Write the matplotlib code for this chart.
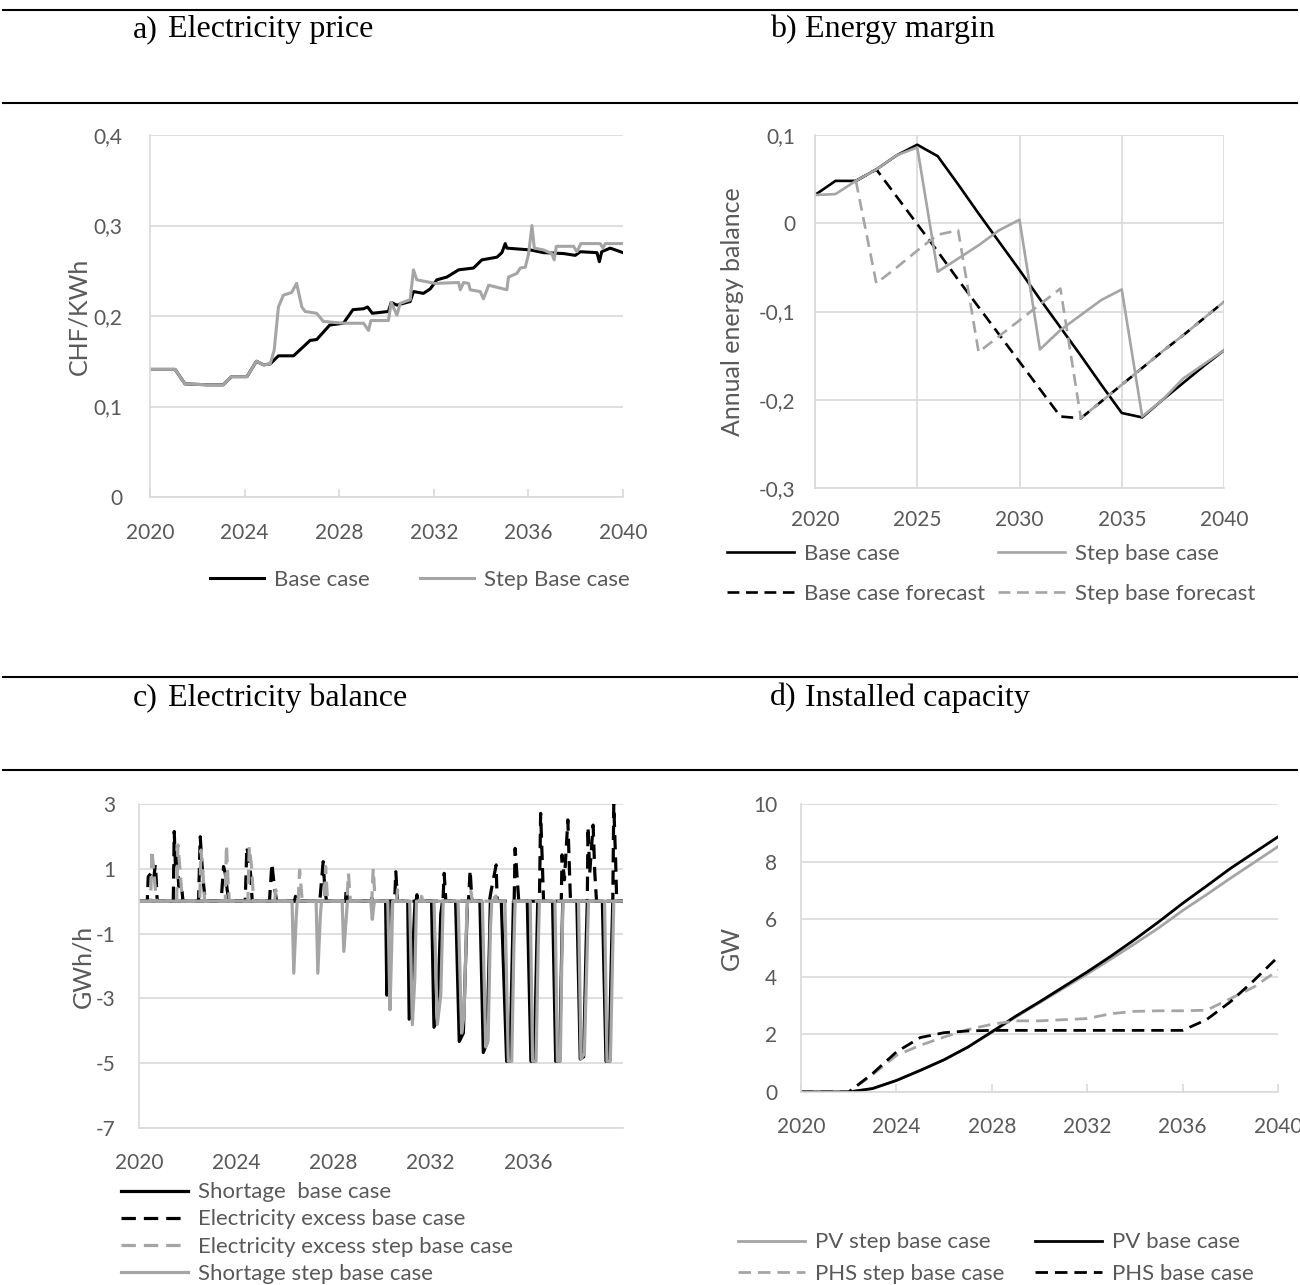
import matplotlib.pyplot as plt
from matplotlib.lines import Line2D
from matplotlib.ticker import FuncFormatter

plt.rcParams['font.family'] = ['Lato', 'DejaVu Sans']

W, H = 1300, 1285
GREY = '#a5a5a5'
GRID = '#d9d9d9'
TXT = '#595959'
FS = 15      # tick labels
LFS = 16     # legend text
YFS = 18     # axis titles

# a) electricity price, CHF/kWh
price_x_base = [2020.0, 2021.06, 2021.48, 2022.4, 2023.1, 2023.45, 2024.1, 2024.5, 2024.8, 2025.08,
                2025.43, 2026.07, 2026.77, 2027.05, 2027.6, 2028.18, 2028.58, 2029.03, 2029.2, 2029.4,
                2030.08, 2030.2, 2030.44, 2031.0, 2031.14, 2031.56, 2031.85, 2032.13, 2032.55, 2033.05,
                2033.68, 2034.03, 2034.67, 2034.88, 2035.02, 2035.09, 2035.58, 2036.08, 2036.64, 2037.49,
                2037.98, 2038.2, 2038.9, 2039.0, 2039.1, 2039.46, 2040.0]
price_base = [0.141, 0.141, 0.125, 0.124, 0.124, 0.133, 0.133, 0.150, 0.146, 0.147,
              0.156, 0.156, 0.173, 0.174, 0.190, 0.192, 0.207, 0.208, 0.210, 0.203,
              0.205, 0.215, 0.212, 0.216, 0.227, 0.225, 0.230, 0.240, 0.243, 0.251,
              0.253, 0.262, 0.265, 0.270, 0.280, 0.275, 0.274, 0.273, 0.270, 0.269,
              0.267, 0.271, 0.270, 0.260, 0.271, 0.275, 0.270]
price_x_step = [2020.0, 2021.06, 2021.48, 2022.4, 2023.1, 2023.45, 2024.1, 2024.5, 2024.8, 2025.08,
                2025.25, 2025.43, 2025.64, 2025.99, 2026.2, 2026.42, 2026.56, 2027.05, 2027.33, 2028.18,
                2029.03, 2029.24, 2029.34, 2030.08, 2030.2, 2030.44, 2030.58, 2031.0, 2031.14, 2031.28,
                2032.06, 2033.05, 2033.12, 2033.26, 2033.47, 2033.54, 2033.96, 2034.1, 2034.32, 2035.09,
                2035.16, 2035.51, 2035.66, 2035.87, 2036.01, 2036.15, 2036.25, 2036.64, 2036.99, 2037.09,
                2037.18, 2037.91, 2038.05, 2038.22, 2039.04, 2039.15, 2039.25, 2040.0]
price_step = [0.141, 0.141, 0.125, 0.124, 0.124, 0.133, 0.133, 0.150, 0.146, 0.147,
              0.162, 0.210, 0.223, 0.226, 0.236, 0.210, 0.205, 0.203, 0.194, 0.192,
              0.192, 0.184, 0.195, 0.195, 0.215, 0.201, 0.214, 0.218, 0.251, 0.240,
              0.236, 0.237, 0.229, 0.237, 0.236, 0.229, 0.227, 0.219, 0.234, 0.229,
              0.243, 0.247, 0.253, 0.254, 0.269, 0.300, 0.275, 0.273, 0.269, 0.262,
              0.277, 0.277, 0.271, 0.280, 0.280, 0.275, 0.280, 0.280]

# b) energy margin, annual energy balance
margin_years = list(range(2020, 2041))
margin_base = [0.032, 0.048, 0.048, 0.061, 0.077, 0.089, 0.076, 0.044, 0.011, -0.021, -0.053,
               -0.086, -0.118, -0.150, -0.183, -0.215, -0.220, -0.200, -0.181, -0.162, -0.144]
margin_step = [0.032, 0.033, 0.048, 0.061, 0.077, 0.086, -0.055, -0.040, -0.025, -0.008, 0.004,
               -0.143, -0.121, -0.104, -0.087, -0.075, -0.219, -0.200, -0.176, -0.160, -0.144]
forecast_years = list(range(2022, 2041))
forecast_base = [0.048, 0.061, 0.030, -0.001, -0.032, -0.064, -0.095, -0.126, -0.157, -0.188,
                 -0.219, -0.221, -0.202, -0.183, -0.164, -0.145, -0.127, -0.108, -0.089]
forecast_step = [0.048, -0.068, -0.050, -0.031, -0.013, -0.008, -0.146, -0.128, -0.110, -0.092,
                 -0.074, -0.221, -0.202, -0.183, -0.164, -0.145, -0.127, -0.108, -0.089]

# c) electricity balance, GWh/h
short_base_x = [2020.0,
                2030.15, 2030.20, 2030.26, 2030.30,
                2031.06, 2031.12, 2031.20, 2031.30, 2031.36,
                2032.04, 2032.14, 2032.28, 2032.42, 2032.49,
                2033.03, 2033.18, 2033.35, 2033.46, 2033.52,
                2034.03, 2034.17, 2034.32, 2034.42, 2034.46,
                2034.91, 2035.13, 2035.27, 2035.37, 2035.41,
                2035.98, 2036.13, 2036.27, 2036.37, 2036.41,
                2037.02, 2037.15, 2037.31, 2037.40, 2037.44,
                2038.02, 2038.16, 2038.30, 2038.40, 2038.45,
                2039.07, 2039.22, 2039.35, 2039.45, 2039.50,
                2039.92]
short_base = [0,
              0, -2.9, -1.5, 0,
              0, -3.64, -3.5, -1.0, 0,
              0, -3.89, -3.66, -0.4, 0,
              0, -4.33, -4.07, -1.4, 0,
              0, -4.67, -4.38, -1.4, 0,
              0, -4.94, -4.94, -1.4, 0,
              0, -4.94, -4.94, -1.4, 0,
              0, -4.94, -4.94, -1.4, 0,
              0, -4.87, -4.80, -1.4, 0,
              0, -4.94, -4.94, -1.4, 0,
              0]
short_step_x = [2020.0,
                2026.30, 2026.37, 2026.47, 2026.51,
                2027.29, 2027.36, 2027.46, 2027.51,
                2028.36, 2028.43, 2028.53, 2028.58,
                2029.54, 2029.60, 2029.67, 2029.71,
                2030.24, 2030.33, 2030.40, 2030.44,
                2031.14, 2031.25, 2031.35, 2031.42,
                2032.14, 2032.28, 2032.42, 2032.52,
                2033.13, 2033.28, 2033.38, 2033.49, 2033.53,
                2034.13, 2034.27, 2034.37, 2034.46, 2034.52,
                2035.06, 2035.20, 2035.34, 2035.43, 2035.48,
                2036.10, 2036.20, 2036.34, 2036.43, 2036.48,
                2037.12, 2037.22, 2037.34, 2037.41, 2037.45,
                2038.09, 2038.19, 2038.33, 2038.45, 2038.50,
                2039.16, 2039.26, 2039.40, 2039.50, 2039.54,
                2039.92]
short_step = [0,
              0, -2.22, -0.5, 0,
              0, -2.22, -0.5, 0,
              0, -1.55, -0.5, 0,
              0, -0.56, -0.1, 0,
              0, -3.35, -1.4, 0,
              0, -3.81, -2.4, 0,
              0, -3.80, -2.9, 0,
              0, -4.07, -3.5, -0.4, 0,
              0, -4.50, -4.3, -0.9, 0,
              0, -4.94, -4.94, -1.4, 0,
              0, -4.94, -4.94, -1.4, 0,
              0, -4.94, -4.94, -1.4, 0,
              0, -4.87, -4.70, -1.4, 0,
              0, -4.94, -4.94, -1.4, 0,
              0]
excess_base_x = [2020.0,
                 2020.34, 2020.38, 2020.50, 2020.60, 2020.67, 2020.71, 2020.75,
                 2021.41, 2021.45, 2021.50, 2021.55, 2021.64, 2021.74, 2021.81,
                 2022.45, 2022.52, 2022.59, 2022.66, 2022.73,
                 2023.38, 2023.48, 2023.55, 2023.63, 2023.70,
                 2024.37, 2024.44, 2024.52, 2024.59, 2024.66,
                 2025.37, 2025.47, 2025.54, 2025.66,
                 2026.40, 2026.44, 2026.48,
                 2027.44, 2027.58, 2027.65, 2027.72,
                 2028.50, 2028.53, 2028.62,
                 2029.55, 2029.58, 2029.62,
                 2030.52, 2030.57, 2030.64,
                 2031.40, 2031.44, 2031.48,
                 2032.51, 2032.56, 2032.63,
                 2033.56, 2033.63, 2033.70,
                 2034.42, 2034.50, 2034.70, 2034.74,
                 2035.44, 2035.48, 2035.56, 2035.63,
                 2036.48, 2036.53, 2036.60, 2036.65,
                 2037.38, 2037.41, 2037.51, 2037.65, 2037.72, 2037.76,
                 2038.45, 2038.48, 2038.55, 2038.69, 2038.76, 2038.83,
                 2039.50, 2039.54, 2039.62, 2039.66,
                 2039.92]
excess_base = [0,
               0, 0.76, 0.86, 0.66, 1.12, 0.66, 0,
               0, 2.15, 1.07, 1.38, 0.45, 0.55, 0,
               0, 1.99, 1.17, 0.50, 0,
               0, 1.07, 0.86, 0.35, 0,
               0, 1.68, 1.27, 0.86, 0,
               0, 1.17, 0.66, 0,
               0, 0.15, 0,
               0, 1.22, 0.35, 0,
               0, 0.40, 0,
               0, 0.10, 0,
               0, 0.91, 0,
               0, 0.20, 0,
               0, 0.86, 0,
               0, 0.96, 0,
               0, 0.35, 1.12, 0,
               0, 1.63, 0.76, 0,
               0, 2.71, 1.17, 0,
               0, 1.43, 0.66, 2.51, 0.86, 0,
               0, 2.30, 0.86, 2.35, 0.86, 0,
               0, 3.00, 1.17, 0,
               0]
excess_step_x = [2020.0,
                 2020.48, 2020.53, 2020.64, 2020.72,
                 2021.55, 2021.60, 2021.70, 2021.78,
                 2022.50, 2022.55, 2022.64, 2022.70,
                 2023.55, 2023.60, 2023.66, 2023.72,
                 2024.48, 2024.54, 2024.63, 2024.72,
                 2025.58, 2025.63, 2025.68,
                 2026.55, 2026.61, 2026.68, 2026.72,
                 2027.62, 2027.68, 2027.76,
                 2028.56, 2028.62, 2028.70,
                 2029.58, 2029.64, 2029.72,
                 2030.60, 2030.64, 2030.70,
                 2031.60, 2031.63, 2031.68,
                 2033.60, 2033.66, 2033.72,
                 2034.60, 2034.66, 2034.72,
                 2039.92]
excess_step = [0,
               0, 1.58, 0.66, 0,
               0, 1.74, 0.86, 0,
               0, 1.58, 0.76, 0,
               0, 1.74, 0.66, 0,
               0, 1.68, 1.07, 0,
               0, 0.35, 0,
               0, 0.96, 0.35, 0,
               0, 1.07, 0,
               0, 0.86, 0,
               0, 1.00, 0,
               0, 0.35, 0,
               0, 0.15, 0,
               0, 0.30, 0,
               0, 0.30, 0,
               0]

# d) installed capacity, GW
cap_years = list(range(2020, 2041))
pv_base = [0, 0, 0, 0.12, 0.40, 0.75, 1.12, 1.56, 2.09, 2.63, 3.13,
           3.65, 4.17, 4.72, 5.30, 5.91, 6.55, 7.15, 7.76, 8.31, 8.86]
pv_step = [0, 0, 0, 0.12, 0.40, 0.75, 1.12, 1.56, 2.07, 2.60, 3.10,
           3.60, 4.10, 4.62, 5.15, 5.70, 6.30, 6.85, 7.42, 7.97, 8.52]
phs_base = [0, 0, 0, 0.64, 1.39, 1.89, 2.06, 2.12, 2.14, 2.14, 2.14,
            2.14, 2.14, 2.14, 2.14, 2.14, 2.14, 2.51, 3.13, 3.88, 4.69]
phs_step = [0, 0, 0, 0.60, 1.27, 1.62, 1.91, 2.17, 2.35, 2.47, 2.47,
            2.51, 2.55, 2.72, 2.80, 2.82, 2.82, 2.84, 3.24, 3.65, 4.23]

DASH = (4.5, 2.5)

fig = plt.figure(figsize=(W / 100, H / 100), dpi=100)


def px_axes(l, t, r, b):
    return fig.add_axes([l / W, 1 - b / H, (r - l) / W, (b - t) / H])


def comma(v, _):
    if abs(v) < 1e-9:
        return '0'
    return ('%g' % round(v, 3)).replace('.', ',')


def style(ax, ypad, xpad, ticks_in=False, vgrid=False):
    for s in ('top', 'right'):
        ax.spines[s].set_visible(False)
    for s in ('left', 'bottom'):
        ax.spines[s].set_color(GRID)
        ax.spines[s].set_linewidth(1.2)
    ax.grid(axis='y', color=GRID, lw=1.2)
    if vgrid:
        ax.grid(axis='x', color=GRID, lw=1.2)
    ax.set_axisbelow(True)
    ax.tick_params(axis='y', length=0, pad=ypad, labelsize=FS, labelcolor=TXT)
    if ticks_in:
        ax.tick_params(axis='x', direction='in', length=5.5, width=1.2, color=GRID,
                       pad=xpad, labelsize=FS, labelcolor=TXT)
    else:
        ax.tick_params(axis='x', length=0, pad=xpad, labelsize=FS, labelcolor=TXT)
    ax.yaxis.set_major_formatter(FuncFormatter(comma))


def ylab(ax, text, x_px, l, r):
    ax.set_ylabel(text, fontsize=YFS, color=TXT, va='center')
    ax.yaxis.set_label_coords((x_px - l) / (r - l), 0.5)


def leg(handles, x_px, y_px, ncol=1, spacing=0.3, hlen=3.0):
    fig.legend(handles=handles, loc='center left', bbox_to_anchor=(x_px / W, 1 - y_px / H),
               frameon=False, fontsize=LFS, labelcolor=TXT, handlelength=hlen, handletextpad=0.45,
               borderpad=0, borderaxespad=0, labelspacing=spacing, ncol=ncol)


# horizontal rules and panel titles
for y in (10, 103, 677, 770):
    fig.add_artist(Line2D([0.002, 0.998], [1 - y / H] * 2, color='black', lw=1.5))
title_font = dict(family='Liberation Serif', fontsize=23, va='center', color='black')
for x0, y0, lab, txt in [(133, 30, 'a)', 'Electricity price'), (770, 30, 'b)', 'Energy margin'),
                         (133, 698, 'c)', 'Electricity balance'), (770, 698, 'd)', 'Installed capacity')]:
    fig.text(x0 / W, 1 - y0 / H, lab, **title_font)
    fig.text((x0 + 35) / W, 1 - y0 / H, txt, **title_font)

# a) electricity price
ax = px_axes(150, 135, 623, 497)
la, = ax.plot(price_x_base, price_base, color='black', lw=2.2, label='Base case')
lb, = ax.plot(price_x_step, price_step, color=GREY, lw=2.2, label='Step Base case')
ax.set_xlim(2020, 2040)
ax.set_ylim(0, 0.4)
ax.set_xticks(range(2020, 2041, 4))
ax.set_yticks([0, 0.1, 0.2, 0.3, 0.4])
style(ax, ypad=20, xpad=19, ticks_in=True)
ylab(ax, 'CHF/KWh', 79, 150, 623)
leg([la], 210, 580, hlen=2.45)
leg([lb], 420, 580, hlen=2.45)

# b) energy margin
ax = px_axes(815, 135, 1224, 488)
b1, = ax.plot(margin_years, margin_base, color='black', lw=1.9, label='Base case')
b3, = ax.plot(forecast_years, forecast_base, color='black', lw=1.9, dashes=DASH,
              label='Base case forecast')
b4, = ax.plot(forecast_years, forecast_step, color=GREY, lw=1.9, dashes=DASH,
              label='Step base forecast')
b2, = ax.plot(margin_years, margin_step, color=GREY, lw=1.9, label='Step base case')
ax.set_xlim(2020, 2040)
ax.set_ylim(-0.3, 0.1)
ax.set_xticks(range(2020, 2041, 5))
ax.set_yticks([-0.3, -0.2, -0.1, 0, 0.1])
style(ax, ypad=14, xpad=16, vgrid=True)
ylab(ax, 'Annual energy balance', 733, 815, 1224)
leg([b1, b3], 727, 574, spacing=0.9)
leg([b2, b4], 998, 574, spacing=0.9)

# c) electricity balance
ax = px_axes(139, 804, 623, 1128)
c1, = ax.plot(short_base_x, short_base, color='black', lw=2.3, label='Shortage  base case')
c2, = ax.plot(excess_base_x, excess_base, color='black', lw=2.3, dashes=DASH,
              label='Electricity excess base case')
c3, = ax.plot(excess_step_x, excess_step, color=GREY, lw=2.3, dashes=DASH,
              label='Electricity excess step base case')
c4, = ax.plot(short_step_x, short_step, color=GREY, lw=2.3, label='Shortage step base case')
ax.set_xlim(2020, 2039.92)
ax.set_ylim(-7, 3)
ax.set_xticks(range(2020, 2037, 4))
ax.set_yticks([-7, -5, -3, -1, 1, 3])
style(ax, ypad=17, xpad=18)
ylab(ax, 'GWh/h', 83, 139, 623)
leg([c1, c2, c3, c4], 121, 1233, spacing=0.32)

# d) installed capacity
ax = px_axes(801, 804, 1278, 1092)
d2, = ax.plot(cap_years, pv_step, color=GREY, lw=2.0, label='PV step base case')
d1, = ax.plot(cap_years, pv_base, color='black', lw=2.0, label='PV base case')
d4, = ax.plot(cap_years, phs_step, color=GREY, lw=2.0, dashes=DASH, label='PHS step base case')
d3, = ax.plot(cap_years, phs_base, color='black', lw=2.0, dashes=DASH, label='PHS base case')
ax.set_xlim(2020, 2040)
ax.set_ylim(0, 10)
ax.set_xticks(range(2020, 2041, 4))
ax.set_yticks(range(0, 11, 2))
style(ax, ypad=17, xpad=18, ticks_in=True)
ylab(ax, 'GW', 731, 801, 1278)
leg([d2, d4], 738, 1258, spacing=0.5)
leg([d1, d3], 1035, 1258, spacing=0.5)

fig.savefig('out.png', dpi=100)
